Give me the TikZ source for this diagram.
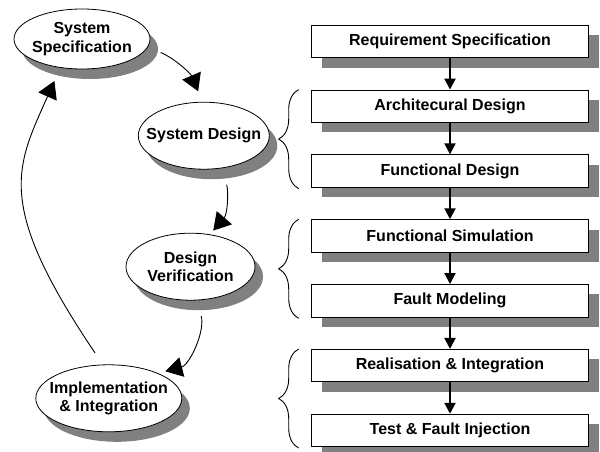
\documentclass[tikz,border=0pt]{standalone}
\usepackage{fontspec}
\setmainfont{Liberation Sans}
\usetikzlibrary{arrows.meta,shapes.geometric,shadows,decorations.pathreplacing}
\definecolor{shgray}{RGB}{128,128,128}
\begin{document}
\begin{tikzpicture}[x=1pt,y=-1pt,
  font=\bfseries\fontsize{16}{18.4}\selectfont,
  boxn/.style={draw=black, line width=0.8pt, fill=white, minimum width=277pt, minimum height=32.5pt, inner sep=0pt,
    drop shadow={shadow xshift=10pt, shadow yshift=-10pt, fill=shgray, opacity=1}},
  elln/.style={ellipse, draw=black, line width=0.8pt, fill=white, inner sep=0pt,
    drop shadow={shadow xshift=8pt, shadow yshift=-10pt, fill=shgray, opacity=1}},
  elltext/.style={align=center, inner sep=0pt},
  flow/.style={line width=2pt, -{Triangle[length=11pt,width=11pt]}},
  cyc/.style={line width=0.9pt, -{Triangle[length=17pt,width=20pt]}},
  brc/.style={decorate, decoration={brace, amplitude=20pt}, line width=0.9pt},
]
\useasboundingbox (0,0) rectangle (600,452);

% process boxes
\node[boxn] (b1) at (450,41.3)   {Requirement Specification};
\node[boxn] (b2) at (450,106.2)  {Architecural Design};
\node[boxn] (b3) at (450,171)    {Functional Design};
\node[boxn] (b4) at (450,235.9)  {Functional Simulation};
\node[boxn] (b5) at (450,300.7)  {Fault Modeling};
\node[boxn] (b6) at (450,365.6)  {Realisation \& Integration};
\node[boxn] (b7) at (450,430.4)  {Test \& Fault Injection};

\draw[flow] (b1) -- (b2);
\draw[flow] (b2) -- (b3);
\draw[flow] (b3) -- (b4);
\draw[flow] (b4) -- (b5);
\draw[flow] (b5) -- (b6);
\draw[flow] (b6) -- (b7);

% braces
\draw[brc] ([xshift=-12.4pt,yshift=-1pt]b3.south west) -- ([xshift=-12.4pt]b2.north west);
\draw[brc] ([xshift=-12.4pt,yshift=-1pt]b5.south west) -- ([xshift=-12.4pt]b4.north west);
\draw[brc] ([xshift=-12.4pt,yshift=-1pt]b7.south west) -- ([xshift=-12.4pt]b6.north west);

% cycle ellipses
\node[elln, minimum width=136pt, minimum height=60pt,
  label={[elltext]center:{System\\Specification}}] (ss) at (82,39) {};
\node[elln, minimum width=131pt, minimum height=67pt,
  label={[elltext]center:{System Design}}] (sd) at (203.8,135.7) {};
\node[elln, minimum width=129pt, minimum height=67pt,
  label={[elltext]center:{Design\\Verification}}] (dv) at (190.5,266.7) {};
\node[elln, minimum width=146pt, minimum height=67pt,
  label={[elltext]center:{Implementation\\\& Integration}}] (impl) at (108.8,398.3) {};

% cycle arrows
\draw[cyc, shorten <=13.8pt, shorten >=11.4pt] (ss.-7) to[out=-23, in=113] (sd.92);
\draw[cyc, shorten <=17pt, shorten >=5pt] (sd.-60) to[out=-76, in=49] (dv.59);
\draw[cyc, shorten <=16pt, shorten >=7.5pt] (dv.-79) to[out=-75, in=14.5] (impl.27);
\draw[cyc, shorten <=14pt, shorten >=14.4pt] (impl.100) to[out=124, in=-114, out distance=194pt, in distance=109pt] (ss.-127);
\end{tikzpicture}
\end{document}
